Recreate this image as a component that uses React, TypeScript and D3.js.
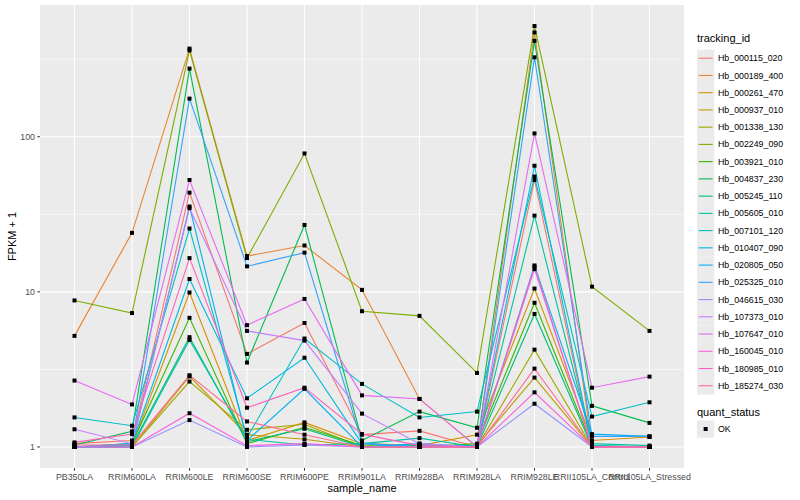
import { scaleLog, scalePoint, line } from "d3";

const SAMPLES = [
  "PB350LA",
  "RRIM600LA",
  "RRIM600LE",
  "RRIM600SE",
  "RRIM600PE",
  "RRIM901LA",
  "RRIM928BA",
  "RRIM928LA",
  "RRIM928LE",
  "RRII105LA_Control",
  "RRII105LA_Stressed",
];

const TRACKING_IDS = [
  "Hb_000115_020",
  "Hb_000189_400",
  "Hb_000261_470",
  "Hb_000937_010",
  "Hb_001338_130",
  "Hb_002249_090",
  "Hb_003921_010",
  "Hb_004837_230",
  "Hb_005245_110",
  "Hb_005605_010",
  "Hb_007101_120",
  "Hb_010407_090",
  "Hb_020805_050",
  "Hb_025325_010",
  "Hb_046615_030",
  "Hb_107373_010",
  "Hb_107647_010",
  "Hb_160045_010",
  "Hb_180985_010",
  "Hb_185274_030",
];

// FPKM + 1 per tracking id, in SAMPLES order
const FPKM: number[][] = [
  [1.05, 1.1, 43.6, 3.98, 6.3, 1.2, 1.27, 1.0, 52.6, 1.0, 1.0],
  [5.2, 24, 370, 17, 19.9, 10.3, 2.04, 1.0, 470, 1.0, 1.0],
  [1.0, 1.02, 9.9, 1.1, 1.44, 1.05, 1.02, 1.2, 10.5, 1.1, 1.16],
  [1.0, 1.0, 2.85, 1.2, 1.12, 1.0, 1.0, 1.02, 2.8, 1.0, 1.0],
  [1.0, 1.0, 2.64, 1.29, 1.4, 1.0, 1.0, 1.0, 4.24, 1.0, 1.0],
  [8.8, 7.3, 360, 16.5, 78, 7.5, 7.0, 3.0, 517, 10.8, 5.6],
  [1.0, 1.05, 6.8, 1.05, 1.34, 1.02, 1.0, 1.05, 8.5, 1.02, 1.0],
  [1.03, 1.26, 275, 3.5, 27, 1.1, 1.69, 1.33, 415, 1.84, 1.43],
  [1.0, 1.02, 5.1, 1.08, 1.31, 1.0, 1.02, 1.0, 7.2, 1.0, 1.0],
  [1.0, 1.0, 4.9, 1.12, 1.03, 1.05, 1.14, 1.0, 31, 1.05, 1.02],
  [1.55, 1.37, 25.6, 1.15, 5.0, 2.55, 1.55, 1.69, 55.4, 1.57, 1.94],
  [1.0, 1.05, 12.1, 2.06, 3.76, 1.05, 1.0, 1.02, 65, 1.02, 1.0],
  [1.0, 1.02, 35.5, 1.1, 2.37, 1.0, 1.05, 1.0, 14.8, 1.21, 1.17],
  [1.0, 1.05, 176, 14.6, 17.9, 1.06, 1.0, 1.0, 325, 1.17, 1.17],
  [1.0, 1.0, 1.49, 1.0, 1.03, 1.0, 1.0, 1.0, 1.9, 1.0, 1.0],
  [1.3, 1.05, 34.6, 5.6, 4.85, 1.64, 1.05, 1.0, 14.0, 1.0, 1.0],
  [2.68, 1.88, 52.6, 6.1, 9.0, 2.15, 2.04, 1.0, 105, 2.41, 2.84],
  [1.0, 1.0, 1.65, 1.02, 1.05, 1.0, 1.0, 1.0, 2.25, 1.0, 1.0],
  [1.07, 1.21, 16.5, 1.79, 2.41, 1.21, 1.02, 1.0, 14.5, 1.0, 1.0],
  [1.03, 1.03, 2.9, 1.46, 1.2, 1.0, 1.0, 1.0, 3.2, 1.0, 1.0],
];

const COLORS = [
  "#F8766D", "#EA8331", "#D89000", "#C09B00", "#A3A500",
  "#7CAE00", "#39B600", "#00BB4E", "#00BF7D", "#00C1A3",
  "#00BFC4", "#00BAE0", "#00B0F6", "#35A2FF", "#9590FF",
  "#C77CFF", "#E76BF3", "#FA62DB", "#FF62BC", "#FF6C91",
];

const Y_TICKS = [1, 10, 100];
const Y_MINOR = [Math.sqrt(10), Math.sqrt(1000), Math.sqrt(100000)];

const W = 800;
const H = 500;
const PANEL = { left: 40, right: 684, top: 5, bottom: 468 };
const FONT = "'Liberation Sans', Arial, Helvetica, sans-serif";

export default function App() {
  const x = scalePoint<string>()
    .domain(SAMPLES)
    .range([PANEL.left, PANEL.right])
    .padding(0.6);

  const all = FPKM.flat();
  const lo = Math.log10(Math.min(...all));
  const hi = Math.log10(Math.max(...all));
  const pad = (hi - lo) * 0.05;
  const y = scaleLog()
    .domain([Math.pow(10, lo - pad), Math.pow(10, hi + pad)])
    .range([PANEL.bottom, PANEL.top]);

  const path = line<number>()
    .x((_, i) => x(SAMPLES[i]) as number)
    .y((d) => y(d));

  const legendX = 697;
  const keyY0 = 58.2;
  const keyStep = 17.24;

  return (
    <svg
      width={W}
      height={H}
      style={{ position: "absolute", left: 0, top: 0, background: "#fff" }}
      fontFamily={FONT}
    >
      <rect
        x={PANEL.left}
        y={PANEL.top}
        width={PANEL.right - PANEL.left}
        height={PANEL.bottom - PANEL.top}
        fill="#EBEBEB"
      />
      {Y_MINOR.map((v) => (
        <line key={"mn" + v} x1={PANEL.left} x2={PANEL.right} y1={y(v)} y2={y(v)} stroke="#fff" strokeWidth={0.55} />
      ))}
      {Y_TICKS.map((v) => (
        <line key={"mj" + v} x1={PANEL.left} x2={PANEL.right} y1={y(v)} y2={y(v)} stroke="#fff" strokeWidth={1.1} />
      ))}
      {SAMPLES.map((s) => (
        <line key={"gx" + s} x1={x(s)} x2={x(s)} y1={PANEL.top} y2={PANEL.bottom} stroke="#fff" strokeWidth={1.1} />
      ))}

      {FPKM.map((vals, i) => (
        <path key={"l" + i} d={path(vals) ?? ""} fill="none" stroke={COLORS[i]} strokeWidth={1.1} />
      ))}
      {FPKM.map((vals, i) =>
        vals.map((v, j) => (
          <rect
            key={`p${i}-${j}`}
            x={(x(SAMPLES[j]) as number) - 2}
            y={y(v) - 2}
            width={4}
            height={4}
            fill="#000"
          />
        ))
      )}

      {/* y axis */}
      {Y_TICKS.map((v) => (
        <g key={"yt" + v}>
          <line x1={PANEL.left - 2.7} x2={PANEL.left} y1={y(v)} y2={y(v)} stroke="#333" strokeWidth={1} />
          <text x={PANEL.left - 5} y={y(v)} dy="0.35em" textAnchor="end" fontSize={8.8} fill="#4D4D4D">
            {v}
          </text>
        </g>
      ))}
      {/* x axis */}
      {SAMPLES.map((s) => (
        <g key={"xt" + s}>
          <line x1={x(s)} x2={x(s)} y1={PANEL.bottom} y2={PANEL.bottom + 2.7} stroke="#333" strokeWidth={1} />
          <text x={x(s)} y={PANEL.bottom + 12} textAnchor="middle" fontSize={8.8} fill="#4D4D4D">
            {s}
          </text>
        </g>
      ))}
      <text x={(PANEL.left + PANEL.right) / 2} y={492} textAnchor="middle" fontSize={11} fill="#000">
        sample_name
      </text>
      <text
        transform={`translate(16,${(PANEL.top + PANEL.bottom) / 2}) rotate(-90)`}
        textAnchor="middle"
        fontSize={11}
        fill="#000"
      >
        FPKM + 1
      </text>

      {/* legend: tracking_id */}
      <text x={legendX} y={42} fontSize={11} fill="#000">
        tracking_id
      </text>
      {TRACKING_IDS.map((id, i) => {
        const cy = keyY0 + i * keyStep;
        return (
          <g key={"lg" + id}>
            <rect x={legendX} y={cy - 8.6} width={17.3} height={17.3} fill="#EBEBEB" />
            <line x1={legendX + 1.7} x2={legendX + 15.6} y1={cy} y2={cy} stroke={COLORS[i]} strokeWidth={1.1} />
            <text x={legendX + 21} y={cy} dy="0.35em" fontSize={8.8} fill="#000">
              {id}
            </text>
          </g>
        );
      })}

      {/* legend: quant_status */}
      <text x={legendX} y={416} fontSize={11} fill="#000">
        quant_status
      </text>
      <rect x={legendX} y={429 - 8.6} width={17.3} height={17.3} fill="#EBEBEB" />
      <rect x={legendX + 8.65 - 2} y={429 - 2} width={4} height={4} fill="#000" />
      <text x={legendX + 21} y={429} dy="0.35em" fontSize={8.8} fill="#000">
        OK
      </text>
    </svg>
  );
}
